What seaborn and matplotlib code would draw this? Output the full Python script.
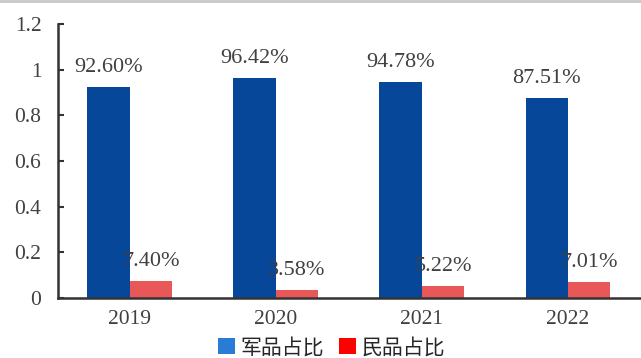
import matplotlib
matplotlib.use("Agg")
import matplotlib.pyplot as plt
import seaborn as sns
import pandas as pd
from matplotlib.patches import Patch
from matplotlib.lines import Line2D

years = ["2019", "2020", "2021", "2022"]
military = [0.9260, 0.9642, 0.9478, 0.8751]
civil = [0.0740, 0.0358, 0.0522, 0.0701]
military_labels = ["92.60%", "96.42%", "94.78%", "87.51%"]
civil_labels = ["7.40%", "3.58%", "5.22%", "7.01%"]
series_names = ["军品占比", "民品占比"]
yticks = [0, 0.2, 0.4, 0.6, 0.8, 1.0, 1.2]
ytick_labels = ["0", "0.2", "0.4", "0.6", "0.8", "1", "1.2"]

df = pd.DataFrame({
    "year": years * 2,
    "value": military + civil,
    "series": [series_names[0]] * 4 + [series_names[1]] * 4,
})

sns.set_theme(style="white")
plt.rcParams["font.family"] = ["Liberation Serif", "Noto Sans CJK SC"]

fig = plt.figure(figsize=(6.41, 3.58), dpi=100)
ax = fig.add_axes([0.0905, 0.1676, 0.9095, 0.7654])

bar_colors = ["#06479a", "#e85858"]
sns.barplot(data=df, x="year", y="value", hue="series", order=years,
            hue_order=series_names, palette=bar_colors, width=0.58, gap=0,
            legend=False, ax=ax, edgecolor="none", saturation=1)

ax.set_xlim(-0.49, 3.5)
ax.set_ylim(0, 1.2)
ax.set_yticks(yticks)
ax.set_yticklabels(ytick_labels)
ax.set_xlabel("")
ax.set_ylabel("")

for s in ["top", "right"]:
    ax.spines[s].set_visible(False)
for s in ["left", "bottom"]:
    ax.spines[s].set_color("#333333")
    ax.spines[s].set_linewidth(1.8)

ax.tick_params(axis="y", direction="in", length=4, width=1.5, color="#333333",
               labelsize=15.5, labelcolor="#404040", pad=12, left=True)
ax.tick_params(axis="x", length=0, labelsize=15.5, labelcolor="#404040", pad=9)

half = 0.58 / 4
for i, (mv, cv) in enumerate(zip(military, civil)):
    ax.annotate(military_labels[i], (i - half, mv), xytext=(0, 7),
                textcoords="offset points", ha="center", va="bottom",
                fontsize=16, color="#404040")
    ax.annotate(civil_labels[i], (i + half, cv), xytext=(0, 7),
                textcoords="offset points", ha="center", va="bottom",
                fontsize=16, color="#404040")

handles = [Patch(facecolor="#2a7bd5", edgecolor="none"),
           Patch(facecolor="#ff0000", edgecolor="none")]
fig.legend(handles, series_names, loc="center", bbox_to_anchor=(0.517, 0.03),
           ncol=2, frameon=False, handlelength=0.85, handleheight=0.85,
           handletextpad=0.25, columnspacing=0.7, borderpad=0,
           prop={"family": ["Noto Sans CJK SC"], "size": 15})

fig.add_artist(Line2D([0, 1], [0.997, 0.997], transform=fig.transFigure,
                      color="#c8c8c8", linewidth=2))

fig.savefig("out.png", dpi=100)
